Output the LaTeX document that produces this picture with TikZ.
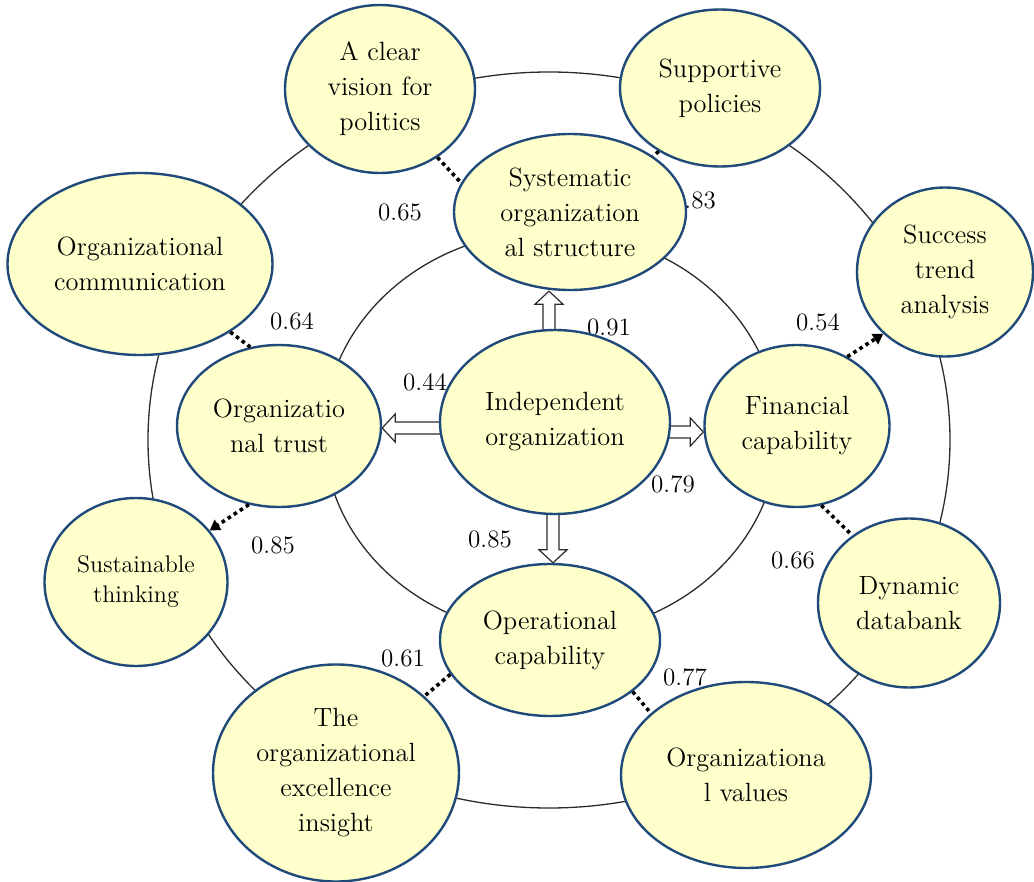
\documentclass[tikz,border=0pt]{standalone}
\usepackage{fontspec}
\usetikzlibrary{calc,shapes.geometric,arrows.meta}
\pgfdeclarelayer{back}
\pgfsetlayers{back,main}
\definecolor{nodefill}{HTML}{FFFFCC}
\definecolor{nodeline}{HTML}{1F4A7A}
\definecolor{ringc}{HTML}{2B2B2B}
\tikzset{
  bub/.style={ellipse, draw=nodeline, line width=1.2pt, fill=nodefill, inner sep=0pt,
    align=center, text=black, font=\fontsize{13.2}{17.5}\selectfont},
  lbl/.style={inner sep=0pt, text=black, font=\fontsize{12.5}{15}\selectfont},
  ring/.style={draw=ringc, line width=0.65pt},
  dotc/.style={draw=black, line width=1.8pt, dash pattern=on 1.8pt off 1.8pt},
  dotarr/.style={dotc, -{Triangle[length=5pt,width=6pt]}},
  hollow/.style={draw=ringc, fill=white, line width=0.6pt, line join=miter,
    to path={let \p1=(\tikztostart), \p2=(\tikztotarget),
      \n1={atan2(\y2-\y1,\x2-\x1)}, \n2={veclen(\x2-\x1,\y2-\y1)} in
      [shift={(\p1)}, rotate=\n1]
      (0pt,-3pt) -- ({\n2*1pt-6.5pt},-3pt) -- ({\n2*1pt-6.5pt},-7pt) -- ({\n2*1pt},0pt)
      -- ({\n2*1pt-6.5pt},7pt) -- ({\n2*1pt-6.5pt},3pt) -- (0pt,3pt) -- cycle}},
}
\begin{document}
\begin{tikzpicture}[x=0.5pt,y=-0.5pt]
\useasboundingbox (0,0) rectangle (1034,882);
% nodes
\node[bub, minimum width=115pt, minimum height=92pt] (ind) at (555,422) {Independent\\organization};
\node[bub, minimum width=116pt, minimum height=78pt] (sys) at (570,212) {Systematic\\organization\\al structure};
\node[bub, minimum width=102pt, minimum height=81pt] (trust) at (279,426) {Organizatio\\nal trust};
\node[bub, minimum width=92.5pt, minimum height=81pt] (fin) at (797,426) {Financial\\capability};
\node[bub, minimum width=110pt, minimum height=76pt] (op) at (550,640) {Operational\\capability};
\node[bub, minimum width=95pt, minimum height=84pt] (vis) at (380,89) {A clear\\vision for\\politics};
\node[bub, minimum width=100pt, minimum height=78.5pt] (supp) at (720,88) {Supportive\\policies};
\node[bub, minimum width=132.5pt, minimum height=91pt] (comm) at (140,264) {Organizational\\communication};
\node[bub, minimum width=88pt, minimum height=84.5pt] (succ) at (945,272) {Success\\trend\\analysis};
\node[bub, minimum width=91.5pt, minimum height=84pt, font=\fontsize{12}{15}\selectfont] (sust) at (136,582) {Sustainable\\thinking};
\node[bub, minimum width=91pt, minimum height=84.5pt] (dyn) at (909,603) {Dynamic\\databank};
\node[bub, minimum width=123pt, minimum height=108.5pt] (exc) at (336,773) {The\\organizational\\excellence\\insight};
\node[bub, minimum width=125pt, minimum height=93pt] (vals) at (746,775) {Organizationa\\l values};
% arrow end points
\coordinate (u1) at ([xshift=-3pt]ind.center);
\coordinate (u2) at (u1 |- sys.south);
\coordinate (l1) at ([yshift=-3pt]ind.center);
\coordinate (l2) at (l1 -| trust.east);
\coordinate (r1) at ([yshift=-5pt]ind.center);
\coordinate (r2) at (r1 -| fin.west);
\coordinate (d1) at ([xshift=-1pt]ind.center);
\coordinate (d2) at (d1 |- op.north);
\begin{pgfonlayer}{back}
\draw[ring] (549,440) ellipse [x radius=200.5pt, y radius=184pt];
\draw[ring] (551,433) ellipse [x radius=113.5pt, y radius=101pt];
\node[lbl] (t65) at (400,212) {0.65};
\node[lbl] (t83) at (694,200) {0.83};
\node[lbl] (t64) at (292,321) {0.64};
\node[lbl] (t44) at (425,382) {0.44};
\node[lbl] (t91) at (609,327) {0.91};
\node[lbl] (t79) at (673,484) {0.79};
\node[lbl] (t85a) at (490,539) {0.85};
\node[lbl] (t85b) at (273,545) {0.85};
\node[lbl] (t54) at (818,322) {0.54};
\node[lbl] (t66) at (793,560) {0.66};
\node[lbl] (t61) at (403,658) {0.61};
\node[lbl] (t77) at (685,677) {0.77};
\draw[hollow] (u1) to (u2);
\draw[hollow] (l1) to (l2);
\draw[hollow] (r1) to (r2);
\draw[hollow] (d1) to (d2);
\end{pgfonlayer}
% dotted connectors
\draw[dotc] (vis.-50) -- (sys.165);
\draw[dotc] (supp.226) -- (sys.34);
\draw[dotc] (comm.-37) -- (trust.110);
\draw[dotarr] (trust.249) -- (sust.35);
\draw[dotarr] (fin.54) -- (succ.225);
\draw[dotc] (fin.-73) -- (dyn.130);
\draw[dotc] (op.199) -- (exc.41);
\draw[dotc] (op.-32) -- (vals.147);
\end{tikzpicture}
\end{document}
